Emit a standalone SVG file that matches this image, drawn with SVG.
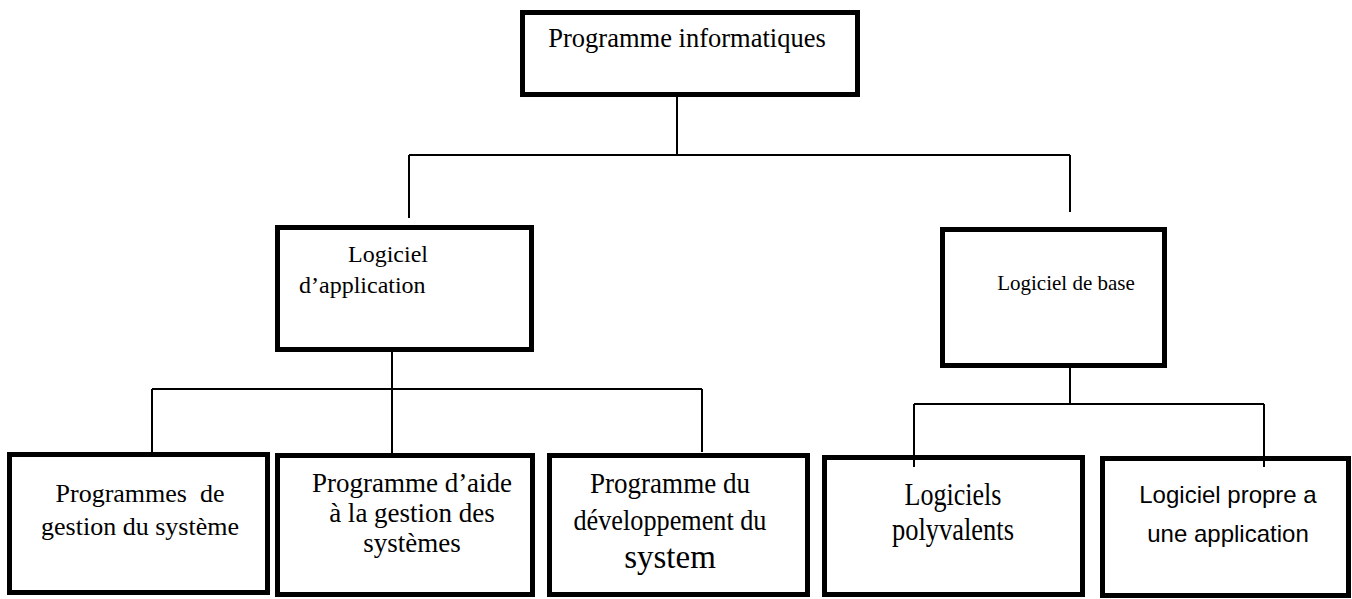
<svg xmlns="http://www.w3.org/2000/svg" width="1352" height="599" viewBox="0 0 1352 599">
<style>
.box{fill:#fff;stroke:#000;stroke-width:5}
.t{font-family:"Liberation Serif","Times New Roman",serif;fill:#000;text-anchor:middle;white-space:pre}
.s{font-family:"Liberation Sans",Arial,sans-serif;fill:#000;text-anchor:middle}
.c{stroke:#000;stroke-width:2;fill:none}
</style>
<rect width="1352" height="599" fill="#fff"/>
<g id="n-root">
<rect class="box" x="522.5" y="12.5" width="335" height="82"/>
<text class="t" x="687" y="47" font-size="26.5">Programme informatiques</text>
</g>
<g id="n-app">
<rect class="box" x="277.5" y="227.5" width="254" height="122"/>
<text class="t" x="348" y="262" font-size="24" style="text-anchor:start">Logiciel</text>
<text class="t" x="299" y="293" font-size="24" style="text-anchor:start">d’application</text>
</g>
<g id="n-base">
<rect class="box" x="942.5" y="229.5" width="222" height="136"/>
<text class="t" x="1066" y="290" font-size="21">Logiciel de base</text>
</g>
<g id="n-b1">
<rect class="box" x="9.5" y="454.5" width="258" height="138"/>
<text class="t" x="140" y="502" font-size="26">Programmes  de</text>
<text class="t" x="140" y="535" font-size="26">gestion du système</text>
</g>
<g id="n-b2">
<rect class="box" x="277.5" y="455.5" width="255" height="139"/>
<text class="t" x="412" y="492" font-size="27">Programme d’aide</text>
<text class="t" x="412" y="522" font-size="27">à la gestion des</text>
<text class="t" x="412" y="552" font-size="27">systèmes</text>
</g>
<g id="n-b3">
<rect class="box" x="549.5" y="455.5" width="258" height="139"/>
<text class="t" x="670" y="493" font-size="30" textLength="160" lengthAdjust="spacingAndGlyphs">Programme du</text>
<text class="t" x="670" y="530" font-size="30" textLength="193" lengthAdjust="spacingAndGlyphs">développement du</text>
<text class="t" x="670" y="568" font-size="33">system</text>
</g>
<g id="n-b4">
<rect class="box" x="824.5" y="457.5" width="258" height="137"/>
<text class="t" x="953" y="505" font-size="31" textLength="97" lengthAdjust="spacingAndGlyphs">Logiciels</text>
<text class="t" x="953" y="540" font-size="31" textLength="122" lengthAdjust="spacingAndGlyphs">polyvalents</text>
</g>
<g id="n-b5">
<rect class="box" x="1102.5" y="458.5" width="246" height="137"/>
<text class="s" x="1228" y="503" font-size="24">Logiciel propre a</text>
<text class="s" x="1228" y="542" font-size="24">une application</text>
</g>
<g id="connectors">
<path class="c" d="M677 97V155M409 155H1070M409 155V218M1070 155V212"/>
<path class="c" d="M392 352V453M152 389H702M152 389V452M702 389V452"/>
<path class="c" d="M1070 368V404M914 404H1264M914 404V467M1264 404V467"/>
</g>
</svg>
